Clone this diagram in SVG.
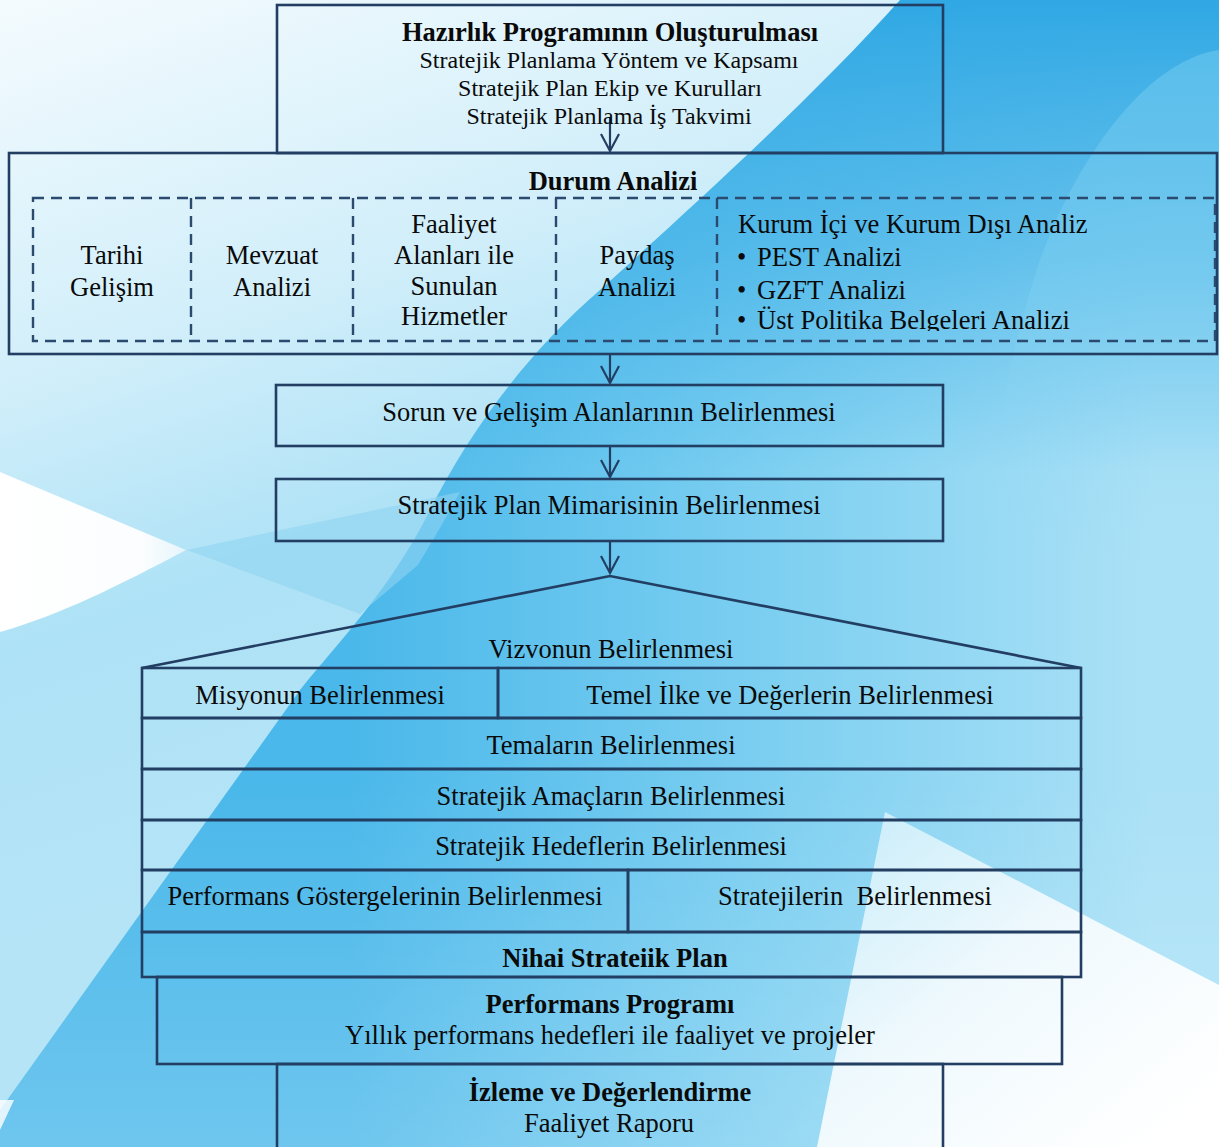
<svg xmlns="http://www.w3.org/2000/svg" width="1219" height="1147" viewBox="0 0 1219 1147">
<defs>
<linearGradient id="bgBase" gradientUnits="userSpaceOnUse" x1="350" y1="0" x2="1150" y2="0">
<stop offset="0" stop-color="#4ab8ea"/>
<stop offset="0.55" stop-color="#7fd0f1"/>
<stop offset="1" stop-color="#abe1f6"/>
</linearGradient>
<linearGradient id="bgTop" gradientUnits="userSpaceOnUse" x1="0" y1="0" x2="0" y2="470">
<stop offset="0" stop-color="#30a8e4" stop-opacity="1"/>
<stop offset="0.55" stop-color="#35abe5" stop-opacity="0.55"/>
<stop offset="1" stop-color="#35abe5" stop-opacity="0"/>
</linearGradient>
<linearGradient id="bgBottom" gradientUnits="userSpaceOnUse" x1="0" y1="780" x2="0" y2="1147">
<stop offset="0" stop-color="#ffffff" stop-opacity="0"/>
<stop offset="1" stop-color="#ffffff" stop-opacity="0.2"/>
</linearGradient>
<linearGradient id="bgLeft" gradientUnits="userSpaceOnUse" x1="0" y1="0" x2="300" y2="900">
<stop offset="0" stop-color="#f4fbfe"/>
<stop offset="0.4" stop-color="#d0eefa"/>
<stop offset="0.65" stop-color="#aee2f6"/>
<stop offset="1" stop-color="#b6e4f7"/>
</linearGradient>
<linearGradient id="bgArc" gradientUnits="userSpaceOnUse" x1="0" y1="50" x2="0" y2="560">
<stop offset="0" stop-color="#6cc8ef" stop-opacity="0.6"/>
<stop offset="0.5" stop-color="#7fd0f1" stop-opacity="0.45"/>
<stop offset="1" stop-color="#9ddbf4" stop-opacity="0"/>
</linearGradient>
<linearGradient id="bgWhite" gradientUnits="userSpaceOnUse" x1="880" y1="812" x2="1150" y2="1147">
<stop offset="0" stop-color="#cdeefa"/>
<stop offset="0.45" stop-color="#eff9fd"/>
<stop offset="1" stop-color="#ffffff"/>
</linearGradient>
<linearGradient id="bgWedge" gradientUnits="userSpaceOnUse" x1="0" y1="550" x2="190" y2="550">
<stop offset="0" stop-color="#ffffff"/>
<stop offset="0.75" stop-color="#fbfdfe"/>
<stop offset="1" stop-color="#e3f4fb"/>
</linearGradient>
<clipPath id="clipList"><rect x="700" y="200" width="515" height="131"/></clipPath>
<style>
.box{fill:none;stroke:#233e63;stroke-width:2.6}
.dash{fill:none;stroke:#2b4a70;stroke-width:2.4;stroke-dasharray:11 7}
.con{fill:none;stroke:#233e63;stroke-width:2.2}
text{font-family:"Liberation Serif","Times New Roman",serif;fill:#0a0a0a;font-size:26.5px}
.c{text-anchor:middle}
.b{font-weight:bold}
.s{font-size:24px}
</style>
</defs>
<g id="background">
<rect x="0" y="0" width="1219" height="1147" fill="url(#bgBase)"/>
<rect x="0" y="0" width="1219" height="470" fill="url(#bgTop)"/>
<rect x="0" y="780" width="1219" height="367" fill="url(#bgBottom)"/>
<path d="M1219,50 C1150,60 1080,150 1040,260 C1010,350 990,450 980,600 L1219,600 Z" fill="url(#bgArc)"/>
<path d="M0,0 L900,0 C820,90 700,200 600,290 C530,350 470,430 430,510 C390,590 340,640 300,690 L0,1110 Z" fill="url(#bgLeft)"/>
<path d="M187,550 L460,492 C445,520 430,545 418,565 L360,614 Z" fill="#8fd4f2" opacity="0.6"/>
<path d="M0,472 L186,550 C120,585 60,615 0,632 Z" fill="url(#bgWedge)"/>
<path d="M0,1100 L14,1100 L0,1130 Z" fill="#ffffff" opacity="0.8"/>
<path d="M885,812 L1219,985 L1219,1147 L817,1147 Z" fill="url(#bgWhite)"/>
</g>
<g id="connectors">
<line class="con" x1="610" y1="117" x2="610" y2="151"/>
<polyline class="con" points="601,134 610,151 619,134"/>
<line class="con" x1="610" y1="355" x2="610" y2="383"/>
<polyline class="con" points="601,366 610,383 619,366"/>
<line class="con" x1="610" y1="447" x2="610" y2="477"/>
<polyline class="con" points="601,460 610,477 619,460"/>
<line class="con" x1="610" y1="542" x2="610" y2="573"/>
<polyline class="con" points="601,556 610,573 619,556"/>
</g>
<g id="hazirlik">
<rect class="box" x="277" y="5" width="666" height="148"/>
<text class="c b" x="610" y="41">Hazırlık Programının Oluşturulması</text>
<text class="c s" x="609" y="68">Stratejik Planlama Yöntem ve Kapsamı</text>
<text class="c s" x="610" y="96">Stratejik Plan Ekip ve Kurulları</text>
<text class="c s" x="609" y="124">Stratejik Planlama İş Takvimi</text>
</g>
<g id="durum">
<rect class="box" x="9" y="153" width="1208" height="201"/>
<text class="c b" x="613" y="190">Durum Analizi</text>
<rect class="dash" x="33" y="198" width="1182" height="143"/>
<line class="dash" x1="191" y1="198" x2="191" y2="341"/>
<line class="dash" x1="353" y1="198" x2="353" y2="341"/>
<line class="dash" x1="556" y1="198" x2="556" y2="341"/>
<line class="dash" x1="717" y1="198" x2="717" y2="341"/>
</g>
<g id="tarihi">
<text class="c" x="112" y="264">Tarihi</text>
<text class="c" x="112" y="296">Gelişim</text>
</g>
<g id="mevzuat">
<text class="c" x="272" y="264">Mevzuat</text>
<text class="c" x="272" y="296">Analizi</text>
</g>
<g id="faaliyet">
<text class="c" x="454" y="233">Faaliyet</text>
<text class="c" x="454" y="264">Alanları ile</text>
<text class="c" x="454" y="295">Sunulan</text>
<text class="c" x="454" y="325">Hizmetler</text>
</g>
<g id="paydas">
<text class="c" x="637" y="264">Paydaş</text>
<text class="c" x="637" y="296">Analizi</text>
</g>
<g id="kurum" clip-path="url(#clipList)">
<text x="738" y="233">Kurum İçi ve Kurum Dışı Analiz</text>
<text x="737" y="266">•</text><text x="757" y="266">PEST Analizi</text>
<text x="737" y="299">•</text><text x="757" y="299">GZFT Analizi</text>
<text x="737" y="329">•</text><text x="757" y="329">Üst Politika Belgeleri Analizi</text>
</g>
<g id="sorun">
<rect class="box" x="276" y="385" width="667" height="61"/>
<text class="c" x="609" y="421">Sorun ve Gelişim Alanlarının Belirlenmesi</text>
</g>
<g id="mimari">
<rect class="box" x="276" y="479" width="667" height="62"/>
<text class="c" x="609" y="514">Stratejik Plan Mimarisinin Belirlenmesi</text>
</g>
<g id="vizyon">
<path class="box" d="M142,668 L610,576 L1081,668"/>
<text class="c" x="611" y="658">Vizvonun Belirlenmesi</text>
</g>
<g id="misyon">
<rect class="box" x="142" y="668" width="356" height="50"/>
<text class="c" x="320" y="704">Misyonun Belirlenmesi</text>
</g>
<g id="temel">
<rect class="box" x="498" y="668" width="583" height="50"/>
<text class="c" x="790" y="704">Temel İlke ve Değerlerin Belirlenmesi</text>
</g>
<g id="temalar">
<rect class="box" x="142" y="718" width="939" height="51"/>
<text class="c" x="611" y="754">Temaların Belirlenmesi</text>
</g>
<g id="amaclar">
<rect class="box" x="142" y="769" width="939" height="51"/>
<text class="c" x="611" y="805">Stratejik Amaçların Belirlenmesi</text>
</g>
<g id="hedefler">
<rect class="box" x="142" y="820" width="939" height="50"/>
<text class="c" x="611" y="855">Stratejik Hedeflerin Belirlenmesi</text>
</g>
<g id="gostergeler">
<rect class="box" x="142" y="870" width="486" height="62"/>
<text class="c" x="385" y="905">Performans Göstergelerinin Belirlenmesi</text>
</g>
<g id="stratejiler">
<rect class="box" x="628" y="870" width="453" height="62"/>
<text class="c" x="855" y="905" xml:space="preserve">Stratejilerin  Belirlenmesi</text>
</g>
<g id="nihai">
<rect class="box" x="142" y="932" width="939" height="45"/>
<text class="c b" x="615" y="967">Nihai Strateiik Plan</text>
</g>
<g id="performans">
<rect class="box" x="157" y="977" width="905" height="87"/>
<text class="c b" x="610" y="1013">Performans Programı</text>
<text class="c" x="610" y="1044">Yıllık performans hedefleri ile faaliyet ve projeler</text>
</g>
<g id="izleme">
<rect class="box" x="277" y="1064" width="666" height="100"/>
<text class="c b" x="610" y="1101">İzleme ve Değerlendirme</text>
<text class="c" x="609" y="1132">Faaliyet Raporu</text>
</g>
</svg>
